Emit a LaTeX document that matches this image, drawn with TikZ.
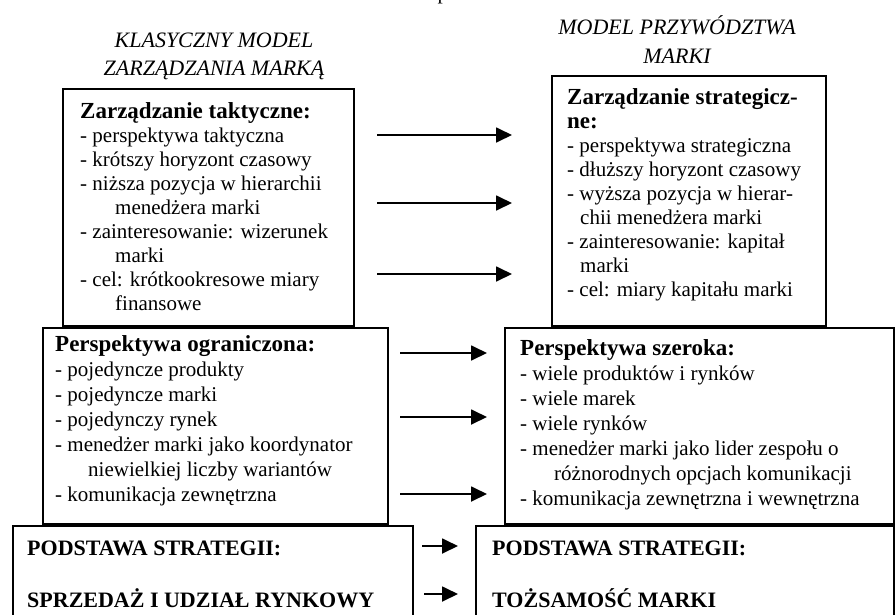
\documentclass[tikz,border=0pt]{standalone}
\usepackage{fontspec}
\setmainfont{Liberation Serif}
\usetikzlibrary{arrows.meta}
\newcommand{\hd}[1]{{\fontsize{23}{24}\selectfont\bfseries #1}}
\begin{document}
\begin{tikzpicture}[x=1pt,y=-1pt,
  box/.style={draw,line width=1.8pt,fill=white,anchor=north west,inner sep=0pt},
  conn/.style={line width=1.8pt,-{Triangle[length=16pt,width=15pt]}},
  bodyA/.style={anchor=north west,inner sep=0pt,align=left,font=\fontsize{21}{24}\selectfont},
  bodyC/.style={anchor=north west,inner sep=0pt,align=left,font=\fontsize{21}{25}\selectfont},
  ttl/.style={anchor=north,inner sep=0pt,align=center,font=\fontsize{22}{28}\selectfont\itshape},
  basis/.style={anchor=base west,inner sep=0pt,font=\fontsize{22}{26}\selectfont\bfseries}]
\useasboundingbox (0,0) rectangle (895,614);
% cut-off fragment at the top
\node[anchor=base west,inner sep=0pt,font=\fontsize{21}{24}\selectfont] (frag) at (437.5,-0.6) {p};
% titles
\node[ttl] (tl) at (214,29) {\rule{0pt}{18pt}KLASYCZNY MODEL\\ZARZĄDZANIA MARKĄ};
\node[ttl,font=\fontsize{22}{29}\selectfont\itshape] (tr) at (677,15) {\rule{0pt}{18pt}MODEL PRZYWÓDZTWA\\MARKI};
% boxes
\node[box,minimum width=291pt,minimum height=237pt] (A) at (62,88) {};
\node[box,minimum width=274pt,minimum height=250pt] (B) at (551,75) {};
\node[box,minimum width=345pt,minimum height=196pt] (C) at (42,327) {};
\node[box,minimum width=389pt,minimum height=196pt] (D) at (504,327) {};
\node[box,minimum width=400pt,minimum height=100pt] (E) at (12,525) {};
\node[box,minimum width=418pt,minimum height=100pt] (F) at (475,525) {};
% texts
\node[bodyA] (tA) at (80,101) {\rule{0pt}{17pt}\hd{Zarządzanie taktyczne:}\\
- perspektywa taktyczna\\
- krótszy horyzont czasowy\\
- niższa pozycja w hierarchii\\
\hspace*{35pt}menedżera marki\\
- zainteresowanie: wizerunek\\
\hspace*{35pt}marki\\
- cel: krótkookresowe miary\\
\hspace*{35pt}finansowe};
\node[bodyA] (tB) at (567,87) {\rule{0pt}{17pt}\hd{Zarządzanie strategicz-}\\
\hd{ne:}\\
- perspektywa strategiczna\\
- dłuższy horyzont czasowy\\
- wyższa pozycja w hierar-\\
\hspace*{13pt}chii menedżera marki\\
- zainteresowanie: kapitał\\
\hspace*{13pt}marki\\
- cel: miary kapitału marki};
\node[bodyC] (tC) at (55,334) {\rule{0pt}{17pt}\hd{Perspektywa ograniczona:}\\
- pojedyncze produkty\\
- pojedyncze marki\\
- pojedynczy rynek\\
- menedżer marki jako koordynator\\
\hspace*{33pt}niewielkiej liczby wariantów\\
- komunikacja zewnętrzna};
\node[bodyC] (tD) at (520,338) {\rule{0pt}{17pt}\hd{Perspektywa szeroka:}\\
- wiele produktów i rynków\\
- wiele marek\\
- wiele rynków\\
- menedżer marki jako lider zespołu o\\
\hspace*{34pt}różnorodnych opcjach komunikacji\\
- komunikacja zewnętrzna i wewnętrzna};
\node[basis] (e1) at (27,555) {PODSTAWA STRATEGII:};
\node[basis] (e2) at (27,607) {SPRZEDAŻ I UDZIAŁ RYNKOWY};
\node[basis] (f1) at (492,555) {PODSTAWA STRATEGII:};
\node[basis] (f2) at (492,607) {TOŻSAMOŚĆ MARKI};
% arrows
\coordinate (a1s) at (377,135); \coordinate (a1e) at (512,135);
\coordinate (a2s) at (377,203); \coordinate (a2e) at (512,203);
\coordinate (a3s) at (377,274); \coordinate (a3e) at (512,274);
\coordinate (b1s) at (400,353); \coordinate (b1e) at (487,353);
\coordinate (b2s) at (400,417); \coordinate (b2e) at (487,417);
\coordinate (b3s) at (400,494); \coordinate (b3e) at (487,494);
\coordinate (c1s) at (422,546); \coordinate (c1e) at (458,546);
\coordinate (c2s) at (424,594); \coordinate (c2e) at (458,594);
\foreach \p in {a1,a2,a3,b1,b2,b3,c1,c2} \draw[conn] (\p s) -- (\p e);
\end{tikzpicture}
\end{document}
